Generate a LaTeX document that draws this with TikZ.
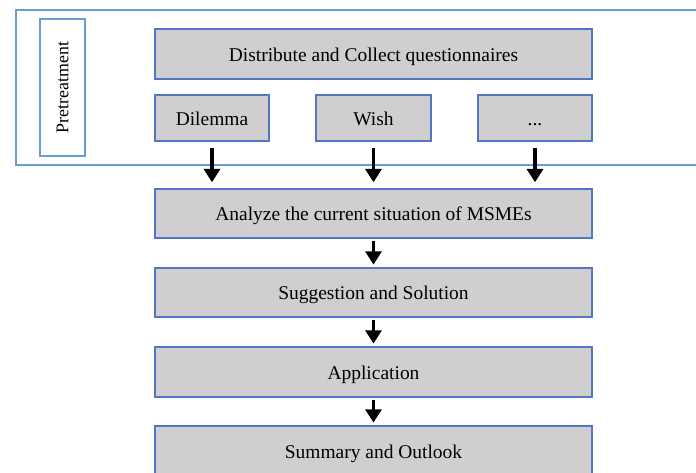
\documentclass[tikz,border=0pt]{standalone}
\usepackage{fontspec}
\setmainfont{Liberation Serif}
\usetikzlibrary{arrows.meta}
\definecolor{boxfill}{RGB}{208,206,206}
\definecolor{boxline}{RGB}{82,118,196}
\definecolor{frameline}{RGB}{100,160,215}
\tikzset{
  box/.style={draw=boxline, line width=1.1pt, fill=boxfill, inner sep=0pt,
    text height=12.5pt, text depth=2pt,
    font=\fontsize{14.6pt}{16pt}\selectfont},
  flowarrow/.style={line width=2.4pt, -{Triangle[width=12pt,length=10pt]}},
}
\begin{document}
\begin{tikzpicture}[x=0.75pt,y=-0.75pt]
\useasboundingbox (0,0) rectangle (696,472);
\clip (0,0) rectangle (696,472);
% outer frame
\draw[frameline, line width=1.5pt] (16,10) rectangle (700,165);
% pretreatment label
\node[draw=frameline, line width=0.8pt, minimum width=45*0.75pt, minimum height=137*0.75pt, inner sep=0pt,
  font=\fontsize{13.4pt}{15pt}\selectfont] (pre) at (62.5,87.5) {\rotatebox{90}{Pretreatment}};
% boxes
\node[box, minimum width=437*0.75pt, minimum height=50*0.75pt] (dist) at (373.5,54) {Distribute and Collect questionnaires};
\node[box, minimum width=114*0.75pt, minimum height=46*0.75pt] (dil) at (212,118) {Dilemma};
\node[box, minimum width=115*0.75pt, minimum height=46*0.75pt] (wish) at (373.5,118) {Wish};
\node[box, minimum width=114*0.75pt, minimum height=46*0.75pt] (dots) at (535,118) {...};
\node[box, minimum width=437*0.75pt, minimum height=49*0.75pt] (ana) at (373.5,213.5) {Analyze the current situation of MSMEs};
\node[box, minimum width=437*0.75pt, minimum height=49*0.75pt] (sug) at (373.5,292.5) {Suggestion and Solution};
\node[box, minimum width=437*0.75pt, minimum height=50*0.75pt] (app) at (373.5,372) {Application};
\node[box, minimum width=437*0.75pt, minimum height=50*0.75pt] (sum) at (373.5,451) {Summary and Outlook};
% arrows
\draw[flowarrow, shorten <=4.5pt, shorten >=4.5pt] (dil.south) -- (dil.south |- ana.north);
\draw[flowarrow, shorten <=4.5pt, shorten >=4.5pt] (wish.south) -- (wish.south |- ana.north);
\draw[flowarrow, shorten <=4.5pt, shorten >=4.5pt] (dots.south) -- (dots.south |- ana.north);
\draw[flowarrow, shorten <=1.5pt, shorten >=2pt] (ana.south) -- (sug.north);
\draw[flowarrow, shorten <=1.5pt, shorten >=2pt] (sug.south) -- (app.north);
\draw[flowarrow, shorten <=1.5pt, shorten >=2pt] (app.south) -- (sum.north);
\end{tikzpicture}
\end{document}
